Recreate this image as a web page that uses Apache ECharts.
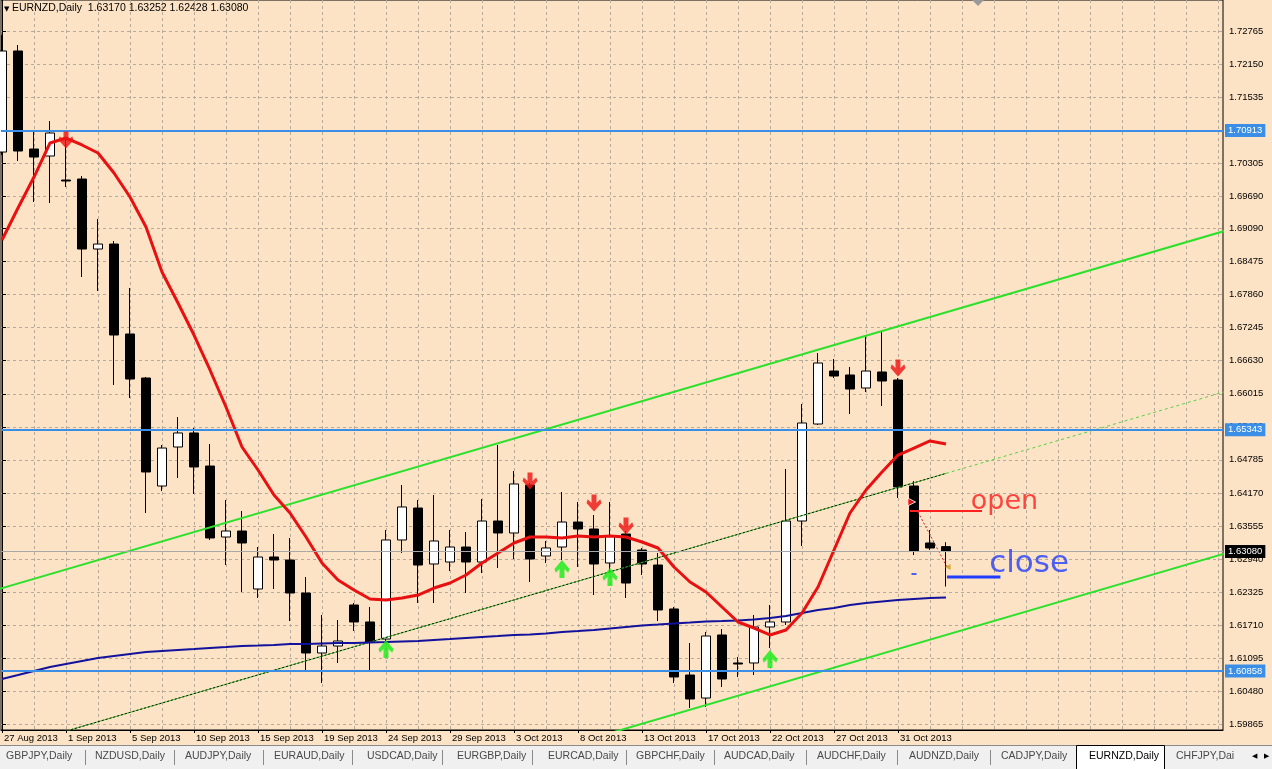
<!DOCTYPE html>
<html>
<head>
<meta charset="utf-8">
<title>EURNZD,Daily</title>
<script src="https://cdn.jsdelivr.net/npm/echarts@6/dist/echarts.min.js"></script>
<style>
  html, body { margin: 0; padding: 0; background: #fde3c5; }
  #main { width: 1272px; height: 769px; }
</style>
</head>
<body>
<div id="main"></div>
<script type="text/javascript">
// bar dates (one bar per trading day, Sunday bars included)
var dates = ['27 Aug 2013','28 Aug 2013','29 Aug 2013','30 Aug 2013','1 Sep 2013','2 Sep 2013','3 Sep 2013','4 Sep 2013','5 Sep 2013','6 Sep 2013',
  '8 Sep 2013','9 Sep 2013','10 Sep 2013','11 Sep 2013','12 Sep 2013','13 Sep 2013','15 Sep 2013','16 Sep 2013','17 Sep 2013','18 Sep 2013',
  '19 Sep 2013','20 Sep 2013','22 Sep 2013','23 Sep 2013','24 Sep 2013','25 Sep 2013','26 Sep 2013','27 Sep 2013','29 Sep 2013','30 Sep 2013',
  '1 Oct 2013','2 Oct 2013','3 Oct 2013','4 Oct 2013','6 Oct 2013','7 Oct 2013','8 Oct 2013','9 Oct 2013','10 Oct 2013','11 Oct 2013',
  '13 Oct 2013','14 Oct 2013','15 Oct 2013','16 Oct 2013','17 Oct 2013','18 Oct 2013','20 Oct 2013','21 Oct 2013','22 Oct 2013','23 Oct 2013',
  '24 Oct 2013','25 Oct 2013','27 Oct 2013','28 Oct 2013','29 Oct 2013','30 Oct 2013','31 Oct 2013','1 Nov 2013','3 Nov 2013','4 Nov 2013'];

var opens = [1.70513,1.72393,1.70569,1.70439,1.69992,1.70011,1.68708,1.68801,1.67127,1.66308,
  1.64298,1.65024,1.65285,1.64670,1.63349,1.63461,1.62382,1.62977,1.62921,1.62307,
  1.61191,1.61321,1.62084,1.61768,1.61451,1.63294,1.63889,1.62847,1.62884,1.63163,
  1.62884,1.63647,1.63424,1.64317,1.62996,1.63163,1.63628,1.63498,1.62866,1.63405,
  1.63107,1.62828,1.62010,1.60781,1.60353,1.61526,1.61005,1.61005,1.61675,1.61768,
  1.63647,1.65452,1.66438,1.66364,1.66122,1.66420,1.66271,1.64298,1.63238,1.63170];
var closes = [1.72393,1.70532,1.70420,1.70867,1.69974,1.68708,1.68801,1.67108,1.66289,1.64559,
  1.65005,1.65285,1.64652,1.63331,1.63461,1.63238,1.62977,1.62921,1.62307,1.61191,
  1.61321,1.61414,1.61768,1.61395,1.63294,1.63908,1.62828,1.63275,1.63163,1.62884,
  1.63647,1.63424,1.64336,1.62940,1.63145,1.63628,1.63498,1.62847,1.63368,1.62493,
  1.62847,1.61991,1.60744,1.60335,1.61507,1.60707,1.60986,1.61675,1.61768,1.63647,
  1.65471,1.66587,1.66345,1.66103,1.66438,1.66252,1.64280,1.63089,1.63145,1.63080];
var lows = [1.70458,1.70346,1.69583,1.69564,1.69862,1.68187,1.67927,1.66178,1.65936,1.63796,
  1.64205,1.64447,1.64150,1.63294,1.62828,1.62326,1.62214,1.62382,1.61786,1.60874,
  1.60633,1.61005,1.61600,1.60856,1.61395,1.63052,1.62121,1.62121,1.62717,1.62307,
  1.62679,1.62773,1.62940,1.62512,1.62866,1.62921,1.62791,1.62270,1.62698,1.62214,
  1.62642,1.61786,1.60633,1.60167,1.60186,1.60558,1.60744,1.60781,1.61284,1.61712,
  1.63182,1.65433,1.66308,1.65638,1.66048,1.65787,1.64075,1.63014,1.63107,1.62428];
var highs = [1.72691,1.72504,1.70923,1.71090,1.70793,1.70067,1.69267,1.68857,1.67983,1.66327,
  1.65061,1.65582,1.65378,1.65080,1.64038,1.63833,1.63163,1.63405,1.63331,1.62605,
  1.61898,1.61805,1.62121,1.62047,1.63480,1.64317,1.64038,1.64131,1.63480,1.63442,
  1.64056,1.65061,1.64577,1.64354,1.63275,1.64187,1.64001,1.63759,1.64001,1.63461,
  1.63145,1.63052,1.62047,1.61377,1.61582,1.61637,1.61116,1.61898,1.62084,1.64615,
  1.65824,1.66773,1.66662,1.66513,1.67090,1.67164,1.66308,1.64391,1.63480,1.63252];

// moving averages
var maRed = [1.68876,1.69471,1.70048,1.70681,1.70774,1.70644,1.70495,1.70123,1.69676,1.69118,
  1.68280,1.67704,1.67108,1.66457,1.65768,1.65024,1.64596,1.64131,1.63796,1.63349,
  1.62866,1.62549,1.62363,1.62196,1.62177,1.62214,1.62270,1.62400,1.62493,1.62642,
  1.62866,1.63052,1.63238,1.63349,1.63349,1.63331,1.63368,1.63349,1.63368,1.63349,
  1.63256,1.63145,1.62791,1.62512,1.62326,1.62047,1.61768,1.61656,1.61526,1.61619,
  1.61935,1.62419,1.63107,1.63796,1.64224,1.64559,1.64875,1.65005,1.65136,1.65080];
var maBlue = [1.60707,1.60781,1.60856,1.60930,1.60986,1.61042,1.61098,1.61135,1.61172,1.61209,
  1.61228,1.61247,1.61265,1.61284,1.61302,1.61321,1.61330,1.61340,1.61358,1.61358,
  1.61368,1.61377,1.61377,1.61386,1.61395,1.61405,1.61414,1.61433,1.61451,1.61470,
  1.61489,1.61507,1.61526,1.61535,1.61554,1.61582,1.61600,1.61619,1.61647,1.61675,
  1.61703,1.61721,1.61740,1.61758,1.61777,1.61786,1.61796,1.61814,1.61842,1.61879,
  1.61935,1.61991,1.62028,1.62084,1.62121,1.62149,1.62177,1.62196,1.62214,1.62224];

// price axis labels (as MT4 prints them)
var priceTicks = [1.59865,1.60480,1.61095,1.61710,1.62325,1.62940,1.63555,1.64170,1.64785,1.65400,
  1.66015,1.66630,1.67245,1.67860,1.68475,1.69090,1.69690,1.70305,1.70920,1.71535,1.72150,1.72765];

// horizontal levels and channel lines [bar, price]
var levels = [1.70913, 1.65343, 1.60858];
var upperChannel = [[-1, 1.62310], [78, 1.69183]];
var lowerChannel = [[38, 1.59700], [78, 1.63180]];
var midChannel = [[0, 1.59388], [59, 1.64533]];
var midRay = [[59, 1.64533], [78, 1.66190]];

// arrow signals [bar, price]
var sellArrows = [[4, 1.70737], [33, 1.64391], [37, 1.63982], [39, 1.63554], [56, 1.66494]];
var buyArrows = [[24, 1.61265], [35, 1.62754], [38, 1.62605], [48, 1.61079]];

// trade marks and hand drawn notes [bar, price]
var entryMark = [56.85, 1.64001];
var stopMark = [57, 1.62661];
var exitMark = [59.1, 1.62791];
var openLine = [[56.75, 1.63833], [61.25, 1.63833]];
var openGuide = [[57.25, 1.63814], [59.06, 1.62791]];
var closeLine = [[59.06, 1.62605], [62.4, 1.62605]];
var openNote = [60.55, 1.64001];
var closeNote = [61.7, 1.62846];

var tabs = ['GBPJPY,Daily','NZDUSD,Daily','AUDJPY,Daily','EURAUD,Daily','USDCAD,Daily','EURGBP,Daily','EURCAD,Daily',
  'GBPCHF,Daily','AUDCAD,Daily','AUDCHF,Daily','AUDNZD,Daily','CADJPY,Daily','EURNZD,Daily','CHFJPY,Dai'];
var activeTab = 12;

var FONT = 'Liberation Sans';
var GRIDC = '#b8ab9b';
var X_MIN = -0.0625, X_MAX = 76.3125;

var candles = dates.map(function (d, i) {
  return [i, opens[i], closes[i], lows[i], highs[i]];
});
var dateTicks = [];
for (var i = 0; i < dates.length; i += 4) dateTicks.push(i);
var gridSteps = [];
for (var j = 0; j <= 76; j += 2) gridSteps.push(j);

function toXY(arr) { return arr.map(function (v, i) { return [i, v]; }); }

var myChart = echarts.init(document.getElementById('main'));

var last = dates.length - 1;
var header = 'EURNZD,Daily  ' + [opens[last], highs[last], lows[last], closes[last]].map(function (v) { return v.toFixed(5); }).join(' ');

// tab bar
var tabX = [6, 95, 185, 274, 367, 457, 548, 636, 724, 817, 909, 1001, 1089, 1176];
var sepX = [85, 174, 263, 352, 442, 532, 626, 714, 806, 897, 990];
var graphics = [
  { type: 'rect', silent: true, shape: { x: 0, y: 745, width: 1272, height: 24 }, style: { fill: '#f0f0f0' } },
  { type: 'line', silent: true, shape: { x1: 0, y1: 745.5, x2: 1272, y2: 745.5 }, style: { stroke: '#8a8a8a', lineWidth: 1 } },
  { type: 'rect', silent: true, shape: { x: 1076.5, y: 745.5, width: 88, height: 24 }, style: { fill: '#ffffff', stroke: '#000', lineWidth: 1 } },
  { type: 'text', silent: true, left: 4, top: 6, style: { text: '\u25BC', fontSize: 7, fill: '#000', fontFamily: 'DejaVu Sans' } },
  { type: 'text', silent: true, left: 12, top: 3, style: { text: header, fontSize: 10.5, fill: '#000', fontFamily: FONT } },
  { type: 'polygon', silent: true, shape: { points: [[972, 0], [984, 0], [978, 6]] }, style: { fill: '#9a9a9a' } },
  { type: 'text', silent: true, left: 1252, top: 753, style: { text: '\u25C0', fontSize: 7, fill: '#000', fontFamily: 'DejaVu Sans' } },
  { type: 'text', silent: true, left: 1264, top: 753, style: { text: '\u25B6', fontSize: 7, fill: '#000', fontFamily: 'DejaVu Sans' } }
];
tabs.forEach(function (t, k) {
  graphics.push({ type: 'text', silent: true, left: tabX[k], top: 751,
    style: { text: t, fontSize: 10.5, fontFamily: FONT, fill: k === activeTab ? '#000' : '#4a4a4a' } });
});
sepX.forEach(function (x) {
  graphics.push({ type: 'line', silent: true, shape: { x1: x + 0.5, y1: 750, x2: x + 0.5, y2: 765 }, style: { stroke: '#8a8a8a', lineWidth: 1 } });
});

function lineSeries(data, color, width, type) {
  return {
    type: 'line', data: data, showSymbol: false, silent: true, clip: true,
    lineStyle: { color: color, width: width, type: type || 'solid' }
  };
}

var levelMarks = levels.map(function (v) {
  return { yAxis: v, lineStyle: { color: '#3a8ee6', width: 2, type: 'solid' },
    label: { backgroundColor: '#3a8ee6', color: '#fff' } };
});
levelMarks.push({ yAxis: closes[last], lineStyle: { color: '#a8a8a8', width: 1, type: 'solid' },
  label: { backgroundColor: '#000', color: '#fff' } });

var downPath = 'path://M4,0 L8,0 L8,7 L11,4 L12,7 L6,14 L0,7 L1,4 L4,7 Z';
var upPath = 'path://M6,0 L12,7 L11,10 L8,7 L8,14 L4,14 L4,7 L1,10 L0,7 Z';

myChart.setOption({
  animation: false,
  backgroundColor: '#fde3c5',
  grid: { left: 1, right: 49, top: 0, bottom: 39, show: true, backgroundColor: '#fde3c5', borderColor: '#000', borderWidth: 1 },
  xAxis: [{
    type: 'value', min: X_MIN, max: X_MAX, interval: 2,
    axisLine: { show: false }, axisLabel: { show: false },
    axisTick: { show: false, customValues: gridSteps },
    splitLine: { show: true, lineStyle: { color: GRIDC, type: [3, 3], width: 1 } }
  }, {
    type: 'value', min: X_MIN, max: X_MAX, position: 'bottom',
    axisLine: { show: true, lineStyle: { color: '#000' } },
    axisTick: { show: true, length: 3, customValues: dateTicks, lineStyle: { color: '#000' } },
    axisLabel: { customValues: dateTicks, formatter: function (v) { return dates[Math.round(v)] || ''; },
      align: 'left', margin: 3, padding: [0, 0, 0, 2], fontSize: 9.5, fontFamily: FONT, color: '#000' },
    splitLine: { show: false }
  }],
  yAxis: {
    type: 'value', position: 'right', min: 1.59758, max: 1.73342,
    axisLine: { show: true, lineStyle: { color: '#000' } },
    axisTick: { show: true, length: 4, customValues: priceTicks, lineStyle: { color: '#000' } },
    axisLabel: { customValues: priceTicks, formatter: function (v) { return v.toFixed(5); },
      margin: 6, fontSize: 9.5, fontFamily: FONT, color: '#000' },
    splitLine: { show: true, lineStyle: { color: GRIDC, type: [3, 3], width: 1 } }
  },
  graphic: graphics,
  series: [
    {
      type: 'candlestick', data: candles, barWidth: 10, silent: true, clip: true,
      itemStyle: { color: '#ffffff', color0: '#000000', borderColor: '#000000', borderColor0: '#000000', borderWidth: 1 },
      markLine: {
        silent: true, symbol: ['none', 'none'], precision: 5,
        label: { position: 'end', distance: 2, padding: [2, 3, 1, 3], fontSize: 9.5, fontFamily: FONT,
          formatter: function (p) { return Number(p.value).toFixed(5); } },
        data: levelMarks
      }
    },
    lineSeries(midChannel, '#3fbf2a', 1),
    lineSeries(midChannel, '#101010', 1, [2, 2]),
    lineSeries(midRay, '#55d040', 1, [3, 3]),
    lineSeries(upperChannel, '#2ee02e', 2),
    lineSeries(lowerChannel, '#2ee02e', 2),
    lineSeries(toXY(maBlue), '#12129c', 2),
    lineSeries(toXY(maRed), '#e81010', 3),
    lineSeries(openLine, '#ff2020', 2),
    lineSeries(openGuide, '#d02020', 1, [2, 2]),
    lineSeries(closeLine, '#1f3cff', 3),
    {
      type: 'scatter', data: sellArrows, symbol: downPath, symbolSize: [15, 17], silent: true, z: 6,
      itemStyle: { color: '#ee1111' }
    },
    {
      type: 'scatter', data: buyArrows, symbol: upPath, symbolSize: [15, 18], silent: true, z: 6,
      itemStyle: { color: '#11ee11' }
    },
    {
      type: 'scatter', silent: true, z: 6,
      data: [
        { value: entryMark, symbol: 'triangle', symbolRotate: -90, symbolSize: 8, itemStyle: { color: '#ff2020', borderColor: '#fff', borderWidth: 1 } },
        { value: stopMark, symbol: 'rect', symbolSize: [5, 2], itemStyle: { color: '#1f3cff' } },
        { value: exitMark, symbol: 'triangle', symbolRotate: 90, symbolSize: 6, itemStyle: { color: '#c8a020' } }
      ]
    },
    {
      type: 'scatter', data: [openNote], symbolSize: 0, silent: true, z: 6,
      label: { show: true, position: 'right', distance: 0, formatter: 'open', color: '#ff1a1a',
        fontSize: 27, fontFamily: 'DejaVu Sans' }
    },
    {
      type: 'scatter', data: [closeNote], symbolSize: 0, silent: true, z: 6,
      label: { show: true, position: 'right', distance: 0, formatter: 'close', color: '#1f3cff',
        fontSize: 31, fontFamily: 'DejaVu Sans' }
    }
  ]
});
</script>
</body>
</html>
